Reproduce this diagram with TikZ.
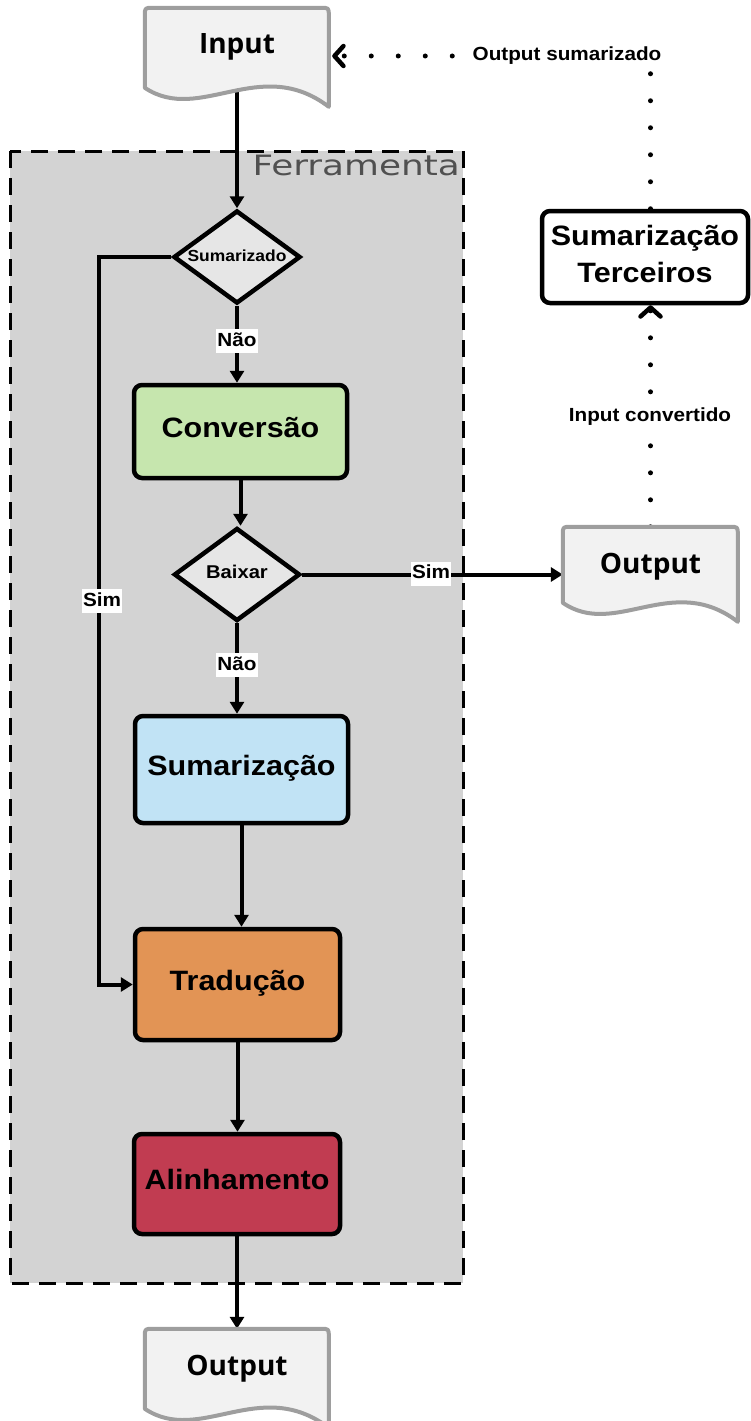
\documentclass[tikz,border=0pt]{standalone}
\usepackage{fontspec}
\usetikzlibrary{shapes.geometric,arrows.meta,calc}
\newfontfamily\labfont{Liberation Sans}[FakeStretch=1.09]
\newfontfamily\docfont{Open Sans}
\newfontfamily\ferrfont{DejaVu Sans}[FakeStretch=1.28]

\definecolor{contc}{HTML}{D3D3D3}
\definecolor{diac}{HTML}{E6E6E6}
\definecolor{docfill}{HTML}{F2F2F2}
\definecolor{docedge}{HTML}{9E9E9E}
\definecolor{convc}{HTML}{C6E6AE}
\definecolor{sumac}{HTML}{C1E3F5}
\definecolor{tradc}{HTML}{E29455}
\definecolor{alinc}{HTML}{C13C51}
\definecolor{ferrc}{HTML}{505050}

\pgfdeclarelayer{back}
\pgfdeclarelayer{conn}
\pgfdeclarelayer{docs}
\pgfsetlayers{back,conn,docs,main}

% Paper-sheet outline with a wavy lower edge, hung from the north west
% corner of node #1; #2 = width, #3 = height at the right-hand side.
\newcommand\docoutline[3]{%
  \begin{scope}[shift={(#1.north west)}]
    \draw[docline] (0,#3-19) -- (0,8) .. controls (0,0) .. (8,0)
      -- (#2-8,0) .. controls (#2,0) .. (#2,8) -- (#2,#3)
      .. controls (0.625*#2,0.47*#3) and (0.30*#2,1.18*#3) .. (0,#3-19) -- cycle;
  \end{scope}}

\tikzset{
  bigtext/.style={font=\labfont\bfseries\fontsize{28}{34}\selectfont},
  stagebox/.style={bigtext, draw, line width=4.5pt, rounded corners=8pt,
    inner sep=0pt, text height=20pt, text depth=9pt},
  decision/.style={diamond, draw, line width=4.5pt, fill=diac, inner sep=0pt,
    aspect=1.37},
  docnode/.style={font=\docfont\bfseries\fontsize{28}{34}\selectfont,
    minimum width=184pt, minimum height=72pt, inner sep=0pt,
    text height=20pt, text depth=0pt},
  docline/.style={draw=docedge, fill=docfill, line width=4pt, line join=round},
  edgelabel/.style={font=\labfont\bfseries\fontsize{19}{23}\selectfont,
    fill=white, inner xsep=1.5pt, inner ysep=3pt, text height=14pt, text depth=4pt},
  flow/.style={line width=4pt, -{Triangle[length=12pt,width=14pt]}},
  dotflow/.style={line width=5pt, line cap=round, dash pattern=on 0pt off 27pt,
    -{Straight Barb[length=9pt,width=20pt,round,line width=4.5pt]}},
}

\begin{document}
\begin{tikzpicture}[x=1pt,y=-1pt]
\useasboundingbox (0,0) rectangle (751,1421);

% tool container
\begin{pgfonlayer}{back}
  \draw[line width=3pt, dash pattern=on 17pt off 10pt, fill=contc]
    (10,151) rectangle (463,1283);
\end{pgfonlayer}
\node[anchor=east, text=ferrc, font=\ferrfont\fontsize{28}{34}\selectfont,
  inner sep=0pt, text height=20pt, text depth=0pt] (ferr) at (460,165) {Ferramenta};

% documents
\node[docnode] (in) at (237,44) {Input};
\node[docnode] (outb) at (237,1365) {Output};
\node[docnode, minimum width=175pt] (outr) at (650.5,563) {Output};
\begin{pgfonlayer}{docs}
  \docoutline{in}{184}{99}
  \docoutline{outb}{184}{99}
  \docoutline{outr}{175}{95}
\end{pgfonlayer}

% decisions
\node[decision, minimum width=127pt, minimum height=93pt,
  font=\labfont\bfseries\fontsize{16}{19}\selectfont,
  text height=11.5pt, text depth=3pt] (sumz) at (237,257) {Sumarizado};
\node[decision, minimum width=126pt, minimum height=93pt,
  font=\labfont\bfseries\fontsize{18.5}{22}\selectfont,
  text height=13.3pt, text depth=5pt] (baix) at (237,574.5) {Baixar};

% processing stages
\node[stagebox, fill=convc, minimum width=213pt, minimum height=93pt]
  (conv) at (240.5,431.5) {Conversão};
\node[stagebox, fill=sumac, minimum width=213pt, minimum height=107pt]
  (suma) at (241.5,769.5) {Sumarização};
\node[stagebox, fill=tradc, minimum width=205pt, minimum height=111pt]
  (trad) at (237.5,984.5) {Tradução};
\node[stagebox, fill=alinc, minimum width=206pt, minimum height=100pt]
  (alin) at (237,1184) {Alinhamento};

% external summariser
\node[bigtext, draw, line width=4.5pt, rounded corners=8pt, fill=white,
  align=center, font=\labfont\bfseries\fontsize{28}{37}\selectfont,
  minimum width=206pt, minimum height=92pt, inner sep=0pt]
  (terc) at (645,257) {Sumarização\\Terceiros\rule[-6pt]{0pt}{6pt}};

% connector labels
\node[edgelabel] (nao1) at (237,341) {Não};
\node[edgelabel] (nao2) at (237,665) {Não};
\node[edgelabel] (sim1) at (102,601) {Sim};
\node[edgelabel] (sim2) at (431,573.7) {Sim};
\node[edgelabel] (iconv) at (650,416) {Input convertido};
\node[edgelabel] (osum) at (567,56) {Output sumarizado};

% connectors
\begin{pgfonlayer}{conn}
  \draw[flow] (in.south) -- (sumz.north);
  \draw[flow] (sumz.south) -- (sumz.south |- conv.north);
  \draw[flow] (conv.south) -- (conv.south |- baix.north);
  \draw[flow] (baix.south) -- (baix.south |- suma.north);
  \draw[flow] (suma.south) -- (suma.south |- trad.north);
  \draw[flow] (trad.south) -- (trad.south |- alin.north);
  \draw[flow] (alin.south) -- (alin.south |- outb.north);
  \draw[flow] (sumz.west) -- ++(-72pt,0) |- (trad.west);
  \draw[flow] (baix.east) -- (baix.east -| outr.west);
  \draw[dotflow] (outr.north) -- (outr.north |- terc.south);
  \draw[dotflow] (outr.north |- terc.north) |- ($(in.east |- osum)+(3,0)$);
\end{pgfonlayer}
\end{tikzpicture}
\end{document}
